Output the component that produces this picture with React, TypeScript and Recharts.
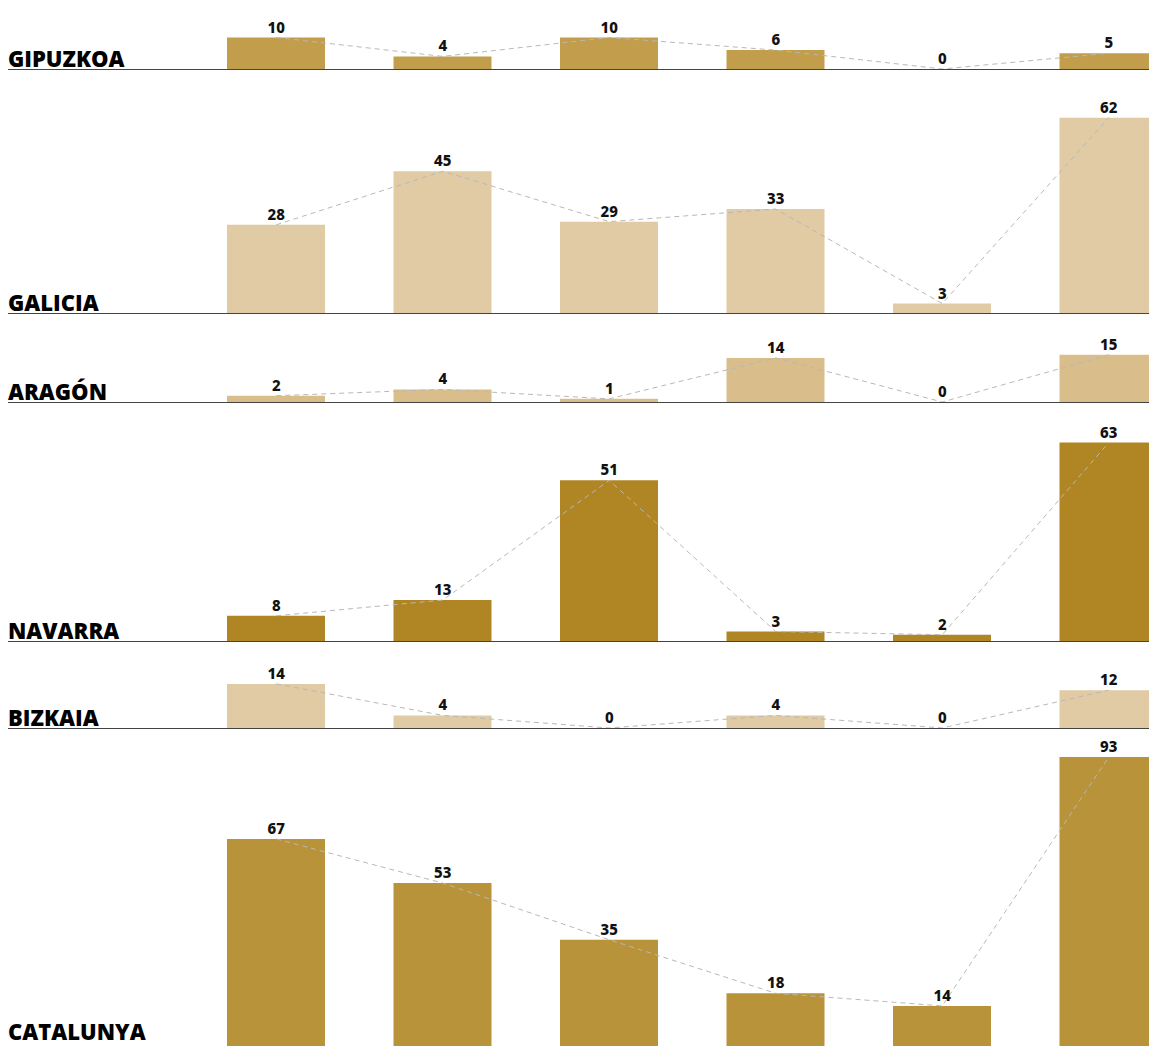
import React from 'react';
import { ComposedChart, Bar, Line, XAxis, YAxis, LabelList } from 'recharts';

// six periods per region, no axis labels shown in the original
const periods = ['P1', 'P2', 'P3', 'P4', 'P5', 'P6'];

const gipuzkoa = [10, 4, 10, 6, 0, 5];
const galicia = [28, 45, 29, 33, 3, 62];
const aragon = [2, 4, 1, 14, 0, 15];
const navarra = [8, 13, 51, 3, 2, 63];
const bizkaia = [14, 4, 0, 4, 0, 12];
const catalunya = [67, 53, 35, 18, 14, 93];

// pixels per unit, shared by every panel so bars are comparable
const PX_PER_UNIT = 3.15;

const panels = [
  { name: 'GIPUZKOA', values: gipuzkoa, color: '#C29D4C', height: 69, titleLift: 0 },
  { name: 'GALICIA', values: galicia, color: '#E0CBA4', height: 244, titleLift: 0 },
  { name: 'ARAGÓN', values: aragon, color: '#D9BE8B', height: 89, titleLift: 0 },
  { name: 'NAVARRA', values: navarra, color: '#B08624', height: 239, titleLift: 0 },
  { name: 'BIZKAIA', values: bizkaia, color: '#E0CBA4', height: 87, titleLift: 0 },
  { name: 'CATALUNYA', values: catalunya, color: '#B8933A', height: 322, titleLift: 8 },
];

const labelStyle = {
  fontFamily: '"Noto Sans", sans-serif',
  fontWeight: 800,
  fontSize: 15,
  fill: '#111',
};

type PanelProps = { name: string; values: number[]; color: string; height: number; titleLift: number };

function RegionPanel({ name, values, color, height, titleLift }: PanelProps) {
  const data = periods.map((p, i) => ({ period: p, value: values[i] }));

  return (
    <div style={{ position: 'relative', height, width: 1149 }}>
      <ComposedChart
        width={1192}
        height={height}
        data={data}
        margin={{ top: 0, right: 0, bottom: 0, left: 193 }}
        style={{ position: 'absolute', left: 0, top: 0 }}
      >
        <XAxis dataKey="period" hide />
        <YAxis hide domain={[0, height / PX_PER_UNIT]} />
        <Bar dataKey="value" fill={color} barSize={98} isAnimationActive={false} />
        <Line
          type="linear"
          dataKey="value"
          stroke="#b8b8b8"
          strokeWidth={1}
          strokeDasharray="5 4"
          dot={false}
          activeDot={false}
          isAnimationActive={false}
        >
          <LabelList dataKey="value" position="top" offset={5} style={labelStyle} />
        </Line>
      </ComposedChart>
      <div
        style={{
          position: 'absolute',
          left: 8,
          right: 0,
          bottom: -1,
          height: 1,
          background: '#444',
        }}
      />
      <div
        style={{
          position: 'absolute',
          left: 8,
          bottom: titleLift,
          fontFamily: '"Open Sans", sans-serif',
          fontWeight: 800,
          fontSize: 22,
          lineHeight: 1,
          color: '#000',
        }}
      >
        {name}
      </div>
    </div>
  );
}

export default function App() {
  return (
    <div
      style={{
        position: 'fixed',
        left: 0,
        top: 0,
        width: 1149,
        height: 1046,
        overflow: 'hidden',
        background: '#fff',
      }}
    >
      {panels.map((p) => (
        <RegionPanel key={p.name} {...p} />
      ))}
    </div>
  );
}
